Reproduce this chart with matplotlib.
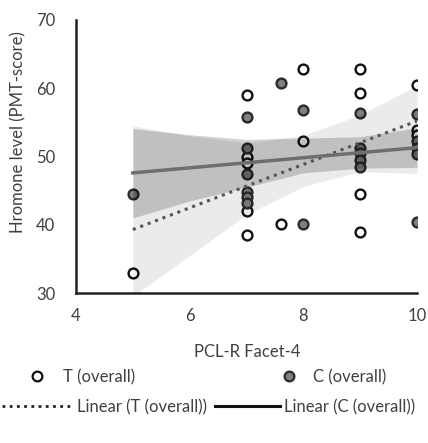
import matplotlib
matplotlib.use("Agg")
import matplotlib.pyplot as plt
from matplotlib.lines import Line2D
import numpy as np

# ---------------- data ----------------
t_x = [5, 7, 7, 7, 7, 7, 7.6, 8, 8, 9, 9, 9, 9, 10, 10, 10]
t_y = [32.9, 59.0, 50.0, 49.0, 42.0, 38.5, 40.1, 62.8, 52.3, 62.8, 59.3, 44.5, 39.0, 60.5, 53.9, 53.1]

c_x = [5, 7, 7, 7, 7, 7, 7, 7.6, 8, 8, 9, 9, 9, 9, 9, 10, 10, 10, 10, 10]
c_y = [44.5, 55.8, 51.3, 47.5, 44.8, 44.0, 43.2, 60.7, 56.8, 40.1,
       56.4, 51.3, 50.5, 49.5, 48.4, 56.2, 52.2, 51.2, 50.3, 40.4]

# trend lines (values at x = 5 and x = 10)
trend_x = [5, 10]
t_trend = [39.3, 55.2]
c_trend = [47.6, 51.3]

# confidence bands read at these x
band_x = [5, 6, 7, 8, 9, 10]
t_low = [29.5, 35.5, 41.5, 45.6, 47.8, 47.5]
t_up = [54.5, 53.0, 52.0, 53.1, 56.1, 60.4]
c_low = [41.0, 43.5, 45.5, 47.6, 48.3, 48.4]
c_up = [54.1, 53.2, 52.5, 52.7, 52.9, 54.2]

x_ticks = [4, 6, 8, 10]
y_ticks = [30, 40, 50, 60, 70]

# ---------------- figure ----------------
W, H = 428, 443
plt.rcParams['font.family'] = ['Lato', 'DejaVu Sans']
txt = '#404040'
fs = 12

fig = plt.figure(figsize=(W / 100, H / 100), dpi=100)
ax = fig.add_axes([76 / W, (H - 293) / H, (417 - 76) / W, (293 - 20) / H])

ax.scatter(t_x, t_y, s=50, facecolor='white', edgecolor='#111111', linewidth=1.7, zorder=2)
ax.scatter(c_x, c_y, s=50, facecolor='#808080', edgecolor='#2a2a2a', linewidth=1.7, zorder=2)

ax.fill_between(band_x, t_low, t_up, color='black', alpha=0.08, linewidth=0, zorder=3)
ax.fill_between(band_x, c_low, c_up, color='black', alpha=0.18, linewidth=0, zorder=3)

ax.plot(trend_x, t_trend, color='#555555', linewidth=2.2, linestyle=(0, (1, 1.6)), zorder=4)
ax.plot(trend_x, c_trend, color='#6e6e6e', linewidth=2.5, zorder=4)

ax.set_xlim(4, 10)
ax.set_ylim(30, 70)
ax.set_xticks(x_ticks)
ax.set_yticks(y_ticks)
ax.tick_params(length=0, labelsize=fs, colors=txt, pad=11)
ax.tick_params(axis='y', pad=15)
for s in ['top', 'right']:
    ax.spines[s].set_visible(False)
for s in ['left', 'bottom']:
    ax.spines[s].set_color('#222222')
    ax.spines[s].set_linewidth(1.8)

fig.text(18 / W, 1 - 132 / H, 'Hromone level (PMT-score)', rotation=90, ha='center', va='center',
         fontsize=fs, color=txt)
fig.text(247 / W, 1 - 352 / H, 'PCL-R Facet-4', ha='center', va='center', fontsize=fs, color=txt)

# legend entries
def add_leg(handle, label, x0, y, hl_px, pad_px):
    em = fs * 100 / 72
    fig.legend([handle], [label], loc='center left', bbox_to_anchor=(x0 / W, 1 - y / H),
               frameon=False, borderpad=0, borderaxespad=0, fontsize=fs,
               handlelength=hl_px / em, handletextpad=pad_px / em, labelcolor=txt)

mT = Line2D([], [], linestyle='none', marker='o', markersize=7, markerfacecolor='white',
            markeredgecolor='#111111', markeredgewidth=1.6)
mC = Line2D([], [], linestyle='none', marker='o', markersize=7, markerfacecolor='#808080',
            markeredgecolor='#2a2a2a', markeredgewidth=1.6)
lT = Line2D([], [], color='#222222', linewidth=2.0, linestyle=(0, (1, 1.6)))
lC = Line2D([], [], color='#111111', linewidth=2.2)

add_leg(mT, 'T (overall)', 30, 377, 14, 19)
add_leg(mC, 'C (overall)', 282, 377, 14, 17)
add_leg(lT, 'Linear (T (overall))', 2, 407, 71, 4)
add_leg(lC, 'Linear (C (overall))', 215, 407, 65, 4)

fig.savefig('out.png', dpi=100)
